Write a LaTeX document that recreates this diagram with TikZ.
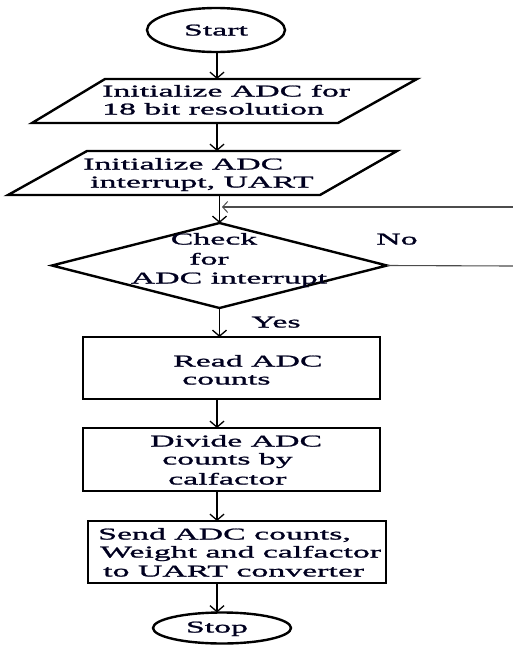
\documentclass[tikz,border=0pt]{standalone}
\usepackage{fontspec}
\setmainfont[FakeStretch=2.05,FakeBold=1.3]{Liberation Serif}
\usetikzlibrary{shapes.geometric,arrows.meta}
\begin{document}
\begin{tikzpicture}[x=1pt,y=-1pt,
  shp/.style={draw=black,line width=2.4pt,inner sep=0pt,outer sep=0pt},
  oval/.style={shp,ellipse},
  parabb/.style={rectangle,inner sep=0pt,outer sep=0pt},
  paraline/.style={draw=black,line width=2.4pt,line join=miter},
  box/.style={shp,rectangle},
  dec/.style={shp,diamond},
  txt/.style={inner sep=0pt,text height=12pt,text depth=3pt,font=\fontsize{16.5}{18.5}\selectfont,text=black!88!blue},
  arr/.style={line width=1.6pt,-{Straight Barb[length=6pt,width=14pt,line width=1.3pt]}},
  thin/.style={line width=1.1pt,draw=black!70}]
\useasboundingbox (0,0) rectangle (513,646);
\coordinate (spine) at (217,0);
% shapes
\node[oval,minimum width=138pt,minimum height=44pt] (start) at (216,30) {};
\node[parabb,minimum width=385pt,minimum height=44pt] (p1) at (224.5,101) {};
\draw[paraline] ([xshift=73pt]p1.north west) -- (p1.north east) -- ([xshift=-79pt]p1.south east) -- (p1.south west) -- cycle;
\node[parabb,minimum width=389pt,minimum height=44pt] (p2) at (202.5,173) {};
\draw[paraline] ([xshift=79pt]p2.north west) -- (p2.north east) -- ([xshift=-77pt]p2.south east) -- (p2.south west) -- cycle;
\node[dec,minimum width=335pt,minimum height=85pt] (dia) at (219.5,265.5) {};
\node[box,minimum width=297pt,minimum height=62pt] (r1) at (231.5,368) {};
\node[box,minimum width=297pt,minimum height=63pt] (r2) at (231.5,459.5) {};
\node[box,minimum width=298pt,minimum height=62pt] (r3) at (237,552) {};
\node[oval,minimum width=138pt,minimum height=31pt] (stop) at (222,628) {};
% texts
\node[txt] (tstart) at (216,31) {Start};
\node[txt,anchor=west] (t1a) at (102,92) {Initialize ADC for};
\node[txt,anchor=west] (t1b) at (102,110) {18 bit resolution};
\node[txt,anchor=west] (t2a) at (83,165) {Initialize ADC};
\node[txt,anchor=west] (t2b) at (90,183) {interrupt, UART};
\node[txt] (tda) at (214,240) {Check};
\node[txt] (tdb) at (209,260) {for};
\node[txt] (tdc) at (229,279) {ADC interrupt};
\node[txt] (tno) at (397,240) {No};
\node[txt] (tyes) at (276,323) {Yes};
\node[txt,anchor=west] (t3a) at (173,362) {Read ADC};
\node[txt,anchor=west] (t3b) at (182,380) {counts};
\node[txt,anchor=west] (t4a) at (150,442) {Divide ADC};
\node[txt,anchor=west] (t4b) at (162,460) {counts by};
\node[txt,anchor=west] (t4c) at (168,480) {calfactor};
\node[txt,anchor=west] (t5a) at (98,535) {Send ADC counts,};
\node[txt,anchor=west] (t5b) at (100,553) {Weight and calfactor};
\node[txt,anchor=west] (t5c) at (103,572) {to UART converter};
\node[txt] (tstop) at (217,628) {Stop};
% connectors
\draw[arr] (start.south -| spine) -- (p1.north -| spine);
\draw[arr] (p1.south -| spine) -- (p2.north -| spine);
\draw[arr] (p2.south -| dia.north) -- (dia.north);
\draw[arr] (dia.south) -- (dia.south |- r1.north);
\draw[arr] (r1.south -| spine) -- (r2.north -| spine);
\draw[arr] (r2.south -| spine) -- (r3.north -| spine);
\draw[arr] (r3.south -| spine) -- (stop.north -| spine);
% feedback lines
\coordinate (fbR) at (513,207);
\coordinate (fbTip) at (222,207);
\coordinate (noR) at (513,266);
\draw[thin,-{Straight Barb[length=5pt,width=11pt,line width=1pt]}] (fbR) -- (fbTip);
\draw[thin] (dia.east) -- (noR);
\end{tikzpicture}
\end{document}
